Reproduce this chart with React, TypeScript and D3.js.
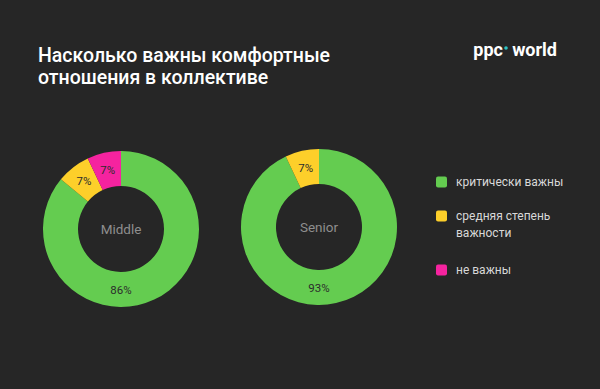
import { useMemo } from 'react'
import * as d3 from 'd3'

const CATEGORIES = ['критически важны', 'средняя степень важности', 'не важны']
const LEGEND_LINES = [['критически важны'], ['средняя степень', 'важности'], ['не важны']]
const COLORS = ['#64cc50', '#fdcf2a', '#f5239f']

const GROUPS = ['Middle', 'Senior']
const MIDDLE_VALUES = [86, 7, 7]
const SENIOR_VALUES = [93, 7, 0]

const W = 600
const H = 389
const R_OUT = 78
const R_IN = 43

type Slice = d3.PieArcDatum<number>

function Donut({ cx, cy, values, name }: { cx: number; cy: number; values: number[]; name: string }) {
  const pie = d3.pie<number>().sort(null).value(d => d)
  const arcs = pie(values)
  const arc = d3.arc<Slice>().innerRadius(R_IN).outerRadius(R_OUT)
  const rMid = (R_IN + R_OUT) / 2

  return (
    <g transform={`translate(${cx},${cy})`}>
      {arcs.map((a, i) =>
        a.data > 0 ? <path key={i} d={arc(a) || ''} fill={COLORS[i]} /> : null
      )}
      {arcs.map((a, i) => {
        if (a.data <= 0) return null
        // big slice gets its label at the bottom, small ones at the centroid
        const ang = a.data > 50 ? Math.PI : (a.startAngle + a.endAngle) / 2
        const x = Math.sin(ang) * rMid
        const y = -Math.cos(ang) * rMid
        return (
          <text key={'l' + i} x={x} y={y} textAnchor="middle" dominantBaseline="central"
            fontSize={11.5} fill="#2c2c2c">{a.data}%</text>
        )
      })}
      <text x={0} y={0} textAnchor="middle" dominantBaseline="central" fontSize={13.5} fill="#8e8e8e">
        {name}
      </text>
    </g>
  )
}

export default function App() {
  const legendY = useMemo(() => [182, 216, 270], [])
  return (
    <svg width={W} height={H} style={{ position: 'absolute', left: 0, top: 0, display: 'block' }}
      fontFamily="Roboto, 'Noto Sans', sans-serif">
      <rect width={W} height={H} fill="#262626" />
      <text x={38} y={62} fontSize={19.5} fontWeight={500} fill="#ffffff">Насколько важны комфортные</text>
      <text x={38} y={84} fontSize={19.5} fontWeight={500} fill="#ffffff">отношения в коллективе</text>

      {/* logo */}
      <text x={503} y={56} fontSize={18} fontWeight={700} fill="#ffffff" textAnchor="end">ppc</text>
      <circle cx={506} cy={48} r={1.8} fill="#2ec4c4" />
      <text x={557} y={56} fontSize={18} fontWeight={700} fill="#ffffff" textAnchor="end">world</text>

      <Donut cx={121} cy={229} values={MIDDLE_VALUES} name={GROUPS[0]} />
      <Donut cx={319} cy={227} values={SENIOR_VALUES} name={GROUPS[1]} />

      {CATEGORIES.map((c, i) => (
        <g key={c}>
          <rect x={436} y={legendY[i] - 5.5} width={11} height={11} rx={2} fill={COLORS[i]} />
          {LEGEND_LINES[i].map((line, j) => (
            <text key={j} x={456} y={legendY[i] + j * 17} dominantBaseline="central" fontSize={12} fill="#d8d8d8">
              {line}
            </text>
          ))}
        </g>
      ))}
    </svg>
  )
}
